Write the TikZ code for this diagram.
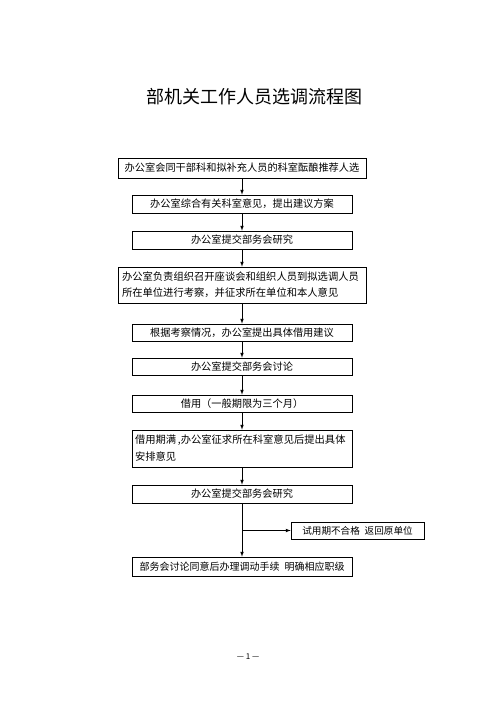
\documentclass[tikz,border=0pt]{standalone}
\usepackage{fontspec}
\setmainfont{Noto Sans CJK SC}
\usetikzlibrary{arrows}

\begin{document}
\begin{tikzpicture}[x=1pt, y=-1pt, ->, >=latex, line width=0.7pt, node distance=36pt,
  box/.style={draw, rectangle, inner sep=0pt, minimum width=220pt, minimum height=18pt, font=\fontsize{10.2}{12}\selectfont},
  widebox/.style={box, minimum width=248pt}]
  \useasboundingbox (0,0) rectangle (496,702);

  \node[font=\fontsize{18}{20}\selectfont] (title) at (254,97) {部机关工作人员选调流程图};

  \node[widebox, minimum height=20pt] (b1) at (242,168) {办公室会同干部科和拟补充人员的科室酝酿推荐人选};
  \node[box, below of=b1] (b2) {办公室综合有关科室意见，提出建议方案};
  \node[box, below of=b2] (b3) {办公室提交部务会研究};
  \node[widebox, below of=b3, node distance=45pt, minimum height=36pt, text width=240pt, inner xsep=4pt, align=left, font=\fontsize{10.3}{16}\selectfont] (b4) {办公室负责组织召开座谈会和组织人员到拟选调人员\\所在单位进行考察，并征求所在单位和本人意见};
  \node[box, below of=b4, node distance=47.5pt, minimum height=17pt] (b5) {根据考察情况，办公室提出具体借用建议};
  \node[box, below of=b5, node distance=34pt, minimum height=17pt] (b6) {办公室提交部务会讨论};
  \node[box, below of=b6, node distance=37pt, minimum height=17pt] (b7) {借用（一般期限为三个月）};
  \node[box, below of=b7, node distance=45pt, minimum height=37pt, text width=214pt, inner xsep=3pt, align=left, font=\fontsize{10.3}{17}\selectfont] (b8) {\mbox{借用期满\,,办公室征求所在科室意见后提出具体}\\安排意见};
  \node[box, below of=b8, node distance=45.5pt] (b9) {办公室提交部务会研究};
  \node[box, minimum width=133pt, minimum height=17pt, font=\fontsize{9.6}{12}\selectfont] (b10) at (357.5,530.5) {试用期不合格\hspace{0.5em}返回原单位};
  \node[box, below of=b9, node distance=72.5pt, minimum height=19pt, font=\fontsize{10}{12}\selectfont] (b11) {部务会讨论同意后办理调动手续\hspace{0.5em}明确相应职级};

  \coordinate (fork) at (b9.south |- b10.west);

  \draw (b1) -- (b2);
  \draw (b2) -- (b3);
  \draw (b3) -- (b4);
  \draw (b4) -- (b5);
  \draw (b5) -- (b6);
  \draw (b6) -- (b7);
  \draw (b7) -- (b8);
  \draw (b8) -- (b9);
  \draw (b9) -- (b11);
  \draw (fork) -- (b10); % 试用期不合格的分支

  \node[font=\fontsize{8}{9}\selectfont] (page) at (248,657) {— 1 —};
\end{tikzpicture}
\end{document}
